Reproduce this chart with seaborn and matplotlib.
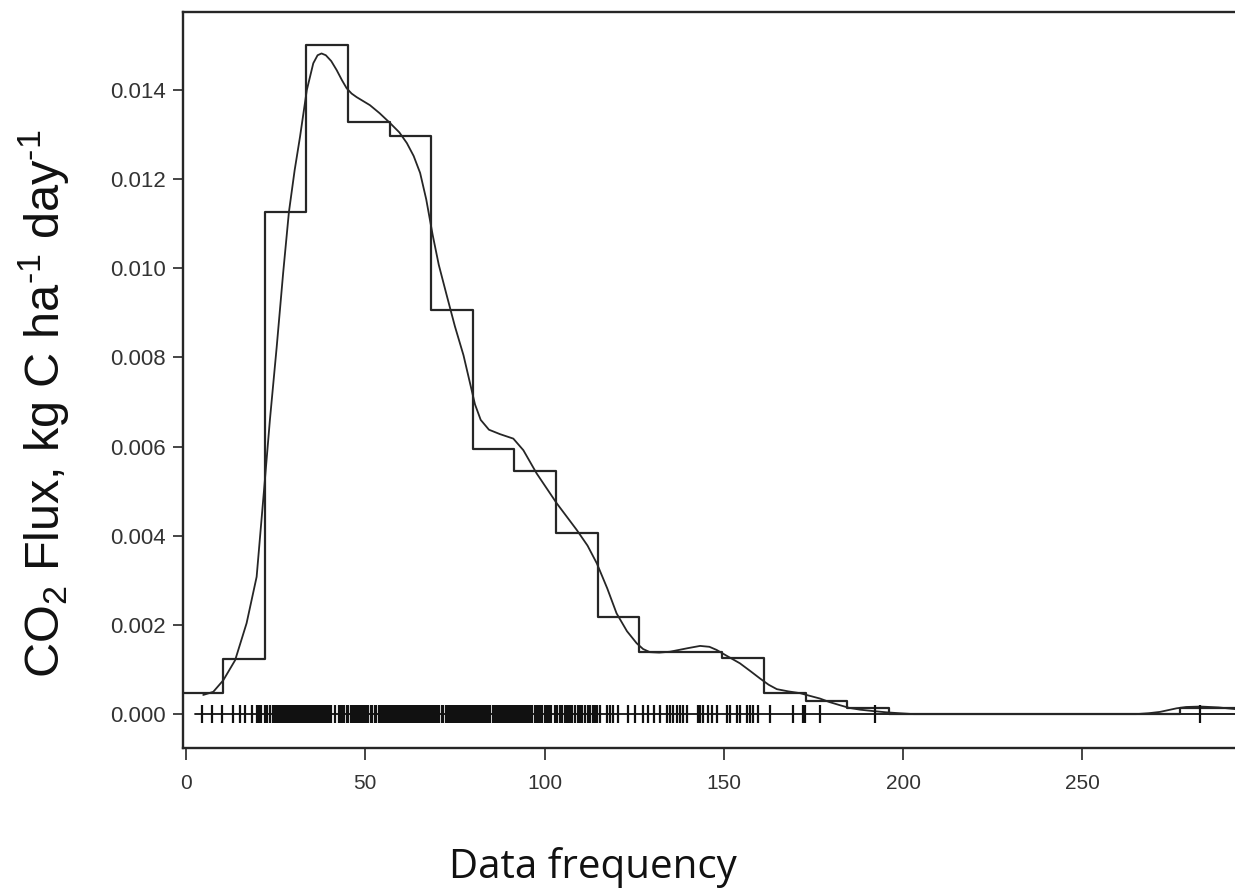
# Гистограмма плотности с KDE-кривой и rug-отметками

import numpy as np
import pandas as pd
import matplotlib
matplotlib.use("Agg")
import matplotlib.pyplot as plt
import seaborn as sns

# Границы интервалов и плотность по ним
bin_edges = [-1.2, 10.4, 22.0, 33.6, 45.2, 56.8, 68.4, 80.0, 91.6, 103.2, 114.8,
             126.4, 138.0, 149.6, 161.2, 172.8, 184.4, 196.0, 207.6, 219.2, 230.8,
             242.4, 254.0, 265.6, 277.2, 294.0]
bin_density = [0.00047, 0.00123, 0.01126, 0.01501, 0.01328, 0.01297, 0.00906,
               0.00595, 0.00545, 0.00406, 0.00218, 0.00139, 0.00139, 0.00126,
               0.00047, 0.00029, 0.00013, 0.0, 0.0, 0.0, 0.0, 0.0, 0.0, 0.0, 0.00013]

# Точки сглаженной кривой плотности
kde_x = [4.8, 7.6, 10.4, 13.7, 16.9, 19.7, 22.0, 23.4, 25.3, 27.1, 28.7, 30.3,
         31.8, 33.7, 35.5, 36.7, 37.8, 39.0, 40.5, 42.0, 43.5, 44.8, 46.2, 47.6,
         51.3, 54.0, 56.9, 59.5, 61.6, 63.5, 65.3, 67.0, 68.8, 70.5, 72.7, 75.0,
         77.4, 79.0, 80.6, 82.2, 84.5, 87.6, 91.3, 94.1, 97.8, 103.4, 109.0, 112.0,
         114.6, 117.5, 120.1, 123.0, 125.7, 127.5, 129.4, 132.0, 135.0, 140.0, 143.4,
         146.0, 148.0, 151.0, 154.5, 157.5, 160.1, 162.5, 164.8, 168.0, 171.3, 174.0,
         176.8, 179.5, 182.4, 185.0, 188.0, 191.5, 195.4, 199.0, 203.0, 265.0, 268.5,
         271.7, 274.0, 276.3, 279.0, 283.0, 288.0, 293.0]
kde_y = [0.00043, 0.00050, 0.00076, 0.00121, 0.00204, 0.00308, 0.00525, 0.00660,
         0.00824, 0.00990, 0.01126, 0.01220, 0.01295, 0.01400, 0.01460, 0.01478,
         0.01482, 0.01478, 0.01465, 0.01445, 0.01422, 0.01404, 0.01392, 0.01384,
         0.01366, 0.01348, 0.01326, 0.01305, 0.01281, 0.01252, 0.01214, 0.01155,
         0.01075, 0.01008, 0.00940, 0.00870, 0.00805, 0.00750, 0.00695, 0.00660,
         0.00638, 0.00628, 0.00618, 0.00592, 0.00540, 0.00473, 0.00413, 0.00378,
         0.00338, 0.00282, 0.00226, 0.00186, 0.00159, 0.00146, 0.00139, 0.00138,
         0.00140, 0.00148, 0.00153, 0.00151, 0.00144, 0.00130, 0.00114, 0.00096,
         0.00080, 0.00066, 0.00056, 0.00051, 0.00047, 0.00041, 0.00035, 0.00027,
         0.00020, 0.00014, 0.00010, 0.00007, 0.00004, 0.00002, 0.0, 0.0, 0.00002,
         0.00005, 0.00009, 0.00013, 0.00016, 0.00017, 0.00015, 0.00011]

# Положения отдельных наблюдений (rug)
rug_x = [4.4, 7.2, 10.0, 13.2, 15.1, 16.5, 18.3, 19.7, 20.3, 21.0, 22.0, 22.6, 23.3,
         24.4, 24.9, 25.5, 26.0, 26.6, 27.1, 27.7, 28.2, 28.8, 29.3, 29.9, 30.4,
         31.0, 31.5, 32.1, 32.6, 33.2, 33.7, 34.3, 34.8, 35.4, 35.9, 36.5, 37.0,
         37.6, 38.1, 38.7, 39.2, 39.8, 40.4, 41.5, 42.6, 43.1, 43.7, 44.2, 44.8,
         45.3, 45.9, 46.5, 47.1, 47.6, 48.2, 48.7, 49.3, 49.8, 50.4, 50.9, 51.5,
         52.0, 52.6, 53.1, 53.7, 54.2, 54.8, 55.3, 55.9, 56.4, 57.0, 57.5, 58.1,
         58.6, 59.2, 59.7, 60.3, 60.8, 61.4, 61.9, 62.5, 63.0, 63.6, 64.1, 64.7,
         65.2, 65.8, 66.3, 66.9, 67.4, 68.0, 68.5, 69.1, 69.6, 70.2, 70.7, 71.3,
         71.8, 72.4, 73.0, 73.6, 74.1, 74.6, 75.0, 75.5, 76.0, 76.4, 76.9, 77.4,
         77.9, 78.3, 78.8, 79.2, 79.7, 80.2, 80.6, 81.1, 81.6, 82.0, 82.5, 83.0,
         83.4, 83.9, 84.3, 84.8, 85.7, 86.2, 86.7, 87.1, 87.6, 88.2, 88.6, 89.0,
         89.5, 90.0, 90.4, 90.9, 91.3, 91.8, 92.2, 92.7, 93.2, 93.7, 94.1, 94.6,
         95.0, 95.5, 96.0, 96.5, 97.4, 97.8, 98.2, 98.7, 99.2, 100.0, 100.6, 101.2,
         101.8, 102.9, 103.5, 104.3, 104.9, 105.7, 106.3, 106.8, 107.1, 107.6, 108.5,
         109.2, 109.9, 110.5, 111.3, 112.2, 112.8, 113.6, 114.1, 114.6, 115.5, 117.3,
         118.3, 119.2, 120.6, 123.4, 125.2, 127.6, 129.0, 130.4, 132.2, 134.1, 135.0,
         135.9, 136.9, 137.8, 138.7, 139.7, 142.9, 143.4, 144.3, 145.7, 146.6, 148.0,
         150.8, 151.7, 153.6, 154.5, 156.4, 157.3, 158.2, 159.6, 162.9, 169.4, 172.2,
         172.7, 176.8, 192.2, 282.8]

x_ticks = [0, 50, 100, 150, 200, 250]
y_ticks = [0.000, 0.002, 0.004, 0.006, 0.008, 0.010, 0.012, 0.014]

sns.set_style("ticks")
plt.rcParams['font.family'] = ['Liberation Sans', 'DejaVu Sans']
plt.rcParams['mathtext.fontset'] = 'custom'
plt.rcParams['mathtext.rm'] = 'Liberation Sans'
plt.rcParams['mathtext.it'] = 'Liberation Sans'
plt.rcParams['mathtext.default'] = 'regular'

line_col = '#262626'

fig = plt.figure(figsize=(12.35, 8.93), dpi=100, facecolor='white')
ax = fig.add_axes([183 / 1235, 145 / 893, 1052 / 1235, 736 / 893])

# гистограмма: центры интервалов с весами = плотность
edges = np.array(bin_edges)
hist_df = pd.DataFrame({'x': (edges[:-1] + edges[1:]) / 2, 'w': bin_density})
sns.histplot(data=hist_df, x='x', weights='w', bins=bin_edges, element='step',
             fill=False, color=line_col, linewidth=1.6, ax=ax)

# кривая плотности
sns.lineplot(x=kde_x, y=kde_y, sort=False, estimator=None, color=line_col,
             linewidth=1.3, ax=ax)

# базовая линия и rug-отметки
ax.axhline(0, xmin=0.0115, color='#111111', linewidth=1.3, zorder=1)
sns.scatterplot(x=rug_x, y=[0.0] * len(rug_x), marker='|', s=150, color='#111111',
                linewidth=1.6, ax=ax, zorder=3)

ax.set_xlim(-0.84, 292.6)
ax.set_ylim(-0.00076, 0.01575)
ax.set_xticks(x_ticks)
ax.set_yticks(y_ticks)
ax.set_yticklabels([f'{v:.3f}' for v in y_ticks], fontsize=16, color='#333333')
ax.set_xticklabels([str(v) for v in x_ticks], fontsize=15, color='#333333')
ax.set_xlabel('')
ax.set_ylabel('')

ax.tick_params(axis='y', direction='out', length=7.5, width=1.2, pad=5,
               color=line_col)
ax.tick_params(axis='x', direction='out', length=8.5, width=1.2, pad=10,
               color=line_col)

for side in ['left', 'bottom', 'top']:
    ax.spines[side].set_visible(True)
    ax.spines[side].set_linewidth(1.7)
    ax.spines[side].set_color(line_col)
ax.spines['right'].set_visible(False)

fig.text(44 / 1235, 1 - 404 / 893,
         r'CO$_2$ Flux, kg C ha$^{\text{-1}}$ day$^{\text{-1}}$', rotation=90,
         ha='center', va='center', fontsize=35, color='#111111')
fig.text(593 / 1235, 1 - 868 / 893, 'Data frequency', ha='center', va='center',
         fontsize=29, color='#111111', family=['Open Sans', 'DejaVu Sans'])

plt.savefig('out.png', dpi=100, facecolor='white')
